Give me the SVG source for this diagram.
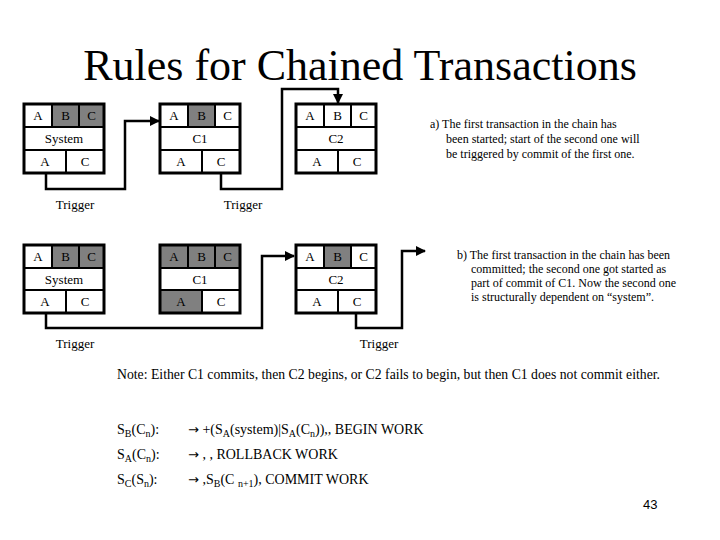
<svg xmlns="http://www.w3.org/2000/svg" width="720" height="540" viewBox="0 0 720 540">
<style>
text{font-family:"Liberation Serif","Times New Roman",serif;fill:#000}
.cell{font-size:13px;text-anchor:middle}
.g{fill:#808080}
.w{fill:#fff}
.div{stroke:#000;stroke-width:2;fill:none}
.frame{fill:none;stroke:#000;stroke-width:3}
.con{fill:none;stroke:#000;stroke-width:2.5}
.lbl{font-size:13px;text-anchor:middle}
.para{font-size:12px}
.f{font-size:14px}
.sub{font-size:10px}
.arr{font-family:"DejaVu Sans",sans-serif;font-size:13px}
</style>
<defs>
<marker id="ah" viewBox="0 0 10 10" refX="9" refY="5" markerWidth="4" markerHeight="4" orient="auto" markerUnits="strokeWidth">
<path d="M0,0 L10,5 L0,10 z" fill="#000"/>
</marker>
</defs>
<rect width="720" height="540" fill="#fff"/>
<text x="360" y="80" font-size="44" text-anchor="middle">Rules for Chained Transactions</text>

<!-- Top row nodes -->
<g id="sys-a">
<rect x="24" y="104" width="28" height="23" class="w"/>
<rect x="52" y="104" width="27" height="23" class="g"/>
<rect x="79" y="104" width="25" height="23" class="g"/>
<path class="div" d="M24,127H104M24,150H104M52,104V127M79,104V127M66,150V173"/>
<rect x="24" y="104" width="80" height="69" class="frame"/>
<text class="cell" x="38" y="120">A</text><text class="cell" x="65.5" y="120">B</text><text class="cell" x="91.5" y="120">C</text>
<text class="cell" x="64" y="143">System</text>
<text class="cell" x="45" y="166">A</text><text class="cell" x="85" y="166">C</text>
</g>
<g id="c1-a">
<rect x="160" y="104" width="28" height="23" class="w"/>
<rect x="188" y="104" width="27" height="23" class="g"/>
<rect x="215" y="104" width="25" height="23" class="w"/>
<path class="div" d="M160,127H240M160,150H240M188,104V127M215,104V127M202,150V173"/>
<rect x="160" y="104" width="80" height="69" class="frame"/>
<text class="cell" x="174" y="120">A</text><text class="cell" x="201.5" y="120">B</text><text class="cell" x="227.5" y="120">C</text>
<text class="cell" x="200" y="143">C1</text>
<text class="cell" x="181" y="166">A</text><text class="cell" x="221" y="166">C</text>
</g>
<g id="c2-a">
<rect x="296" y="104" width="80" height="69" class="w"/>
<path class="div" d="M296,127H376M296,150H376M324,104V127M351,104V127M338,150V173"/>
<rect x="296" y="104" width="80" height="69" class="frame"/>
<text class="cell" x="310" y="120">A</text><text class="cell" x="337.5" y="120">B</text><text class="cell" x="363.5" y="120">C</text>
<text class="cell" x="336" y="143">C2</text>
<text class="cell" x="317" y="166">A</text><text class="cell" x="357" y="166">C</text>
</g>

<!-- Bottom row nodes -->
<g id="sys-b">
<rect x="24" y="245" width="28" height="23" class="w"/>
<rect x="52" y="245" width="27" height="23" class="g"/>
<rect x="79" y="245" width="25" height="23" class="g"/>
<path class="div" d="M24,268H104M24,290H104M52,245V268M79,245V268M66,290V313"/>
<rect x="24" y="245" width="80" height="68" class="frame"/>
<text class="cell" x="38" y="261">A</text><text class="cell" x="65.5" y="261">B</text><text class="cell" x="91.5" y="261">C</text>
<text class="cell" x="64" y="284">System</text>
<text class="cell" x="45" y="306">A</text><text class="cell" x="85" y="306">C</text>
</g>
<g id="c1-b">
<rect x="160" y="245" width="80" height="23" class="g"/>
<rect x="160" y="290" width="42" height="23" class="g"/>
<path class="div" d="M160,268H240M160,290H240M188,245V268M215,245V268M202,290V313"/>
<rect x="160" y="245" width="80" height="68" class="frame"/>
<text class="cell" x="174" y="261">A</text><text class="cell" x="201.5" y="261">B</text><text class="cell" x="227.5" y="261">C</text>
<text class="cell" x="200" y="284">C1</text>
<text class="cell" x="181" y="306">A</text><text class="cell" x="221" y="306">C</text>
</g>
<g id="c2-b">
<rect x="324" y="245" width="27" height="23" class="g"/>
<path class="div" d="M296,268H376M296,290H376M324,245V268M351,245V268M338,290V313"/>
<rect x="296" y="245" width="80" height="68" class="frame"/>
<text class="cell" x="310" y="261">A</text><text class="cell" x="337.5" y="261">B</text><text class="cell" x="363.5" y="261">C</text>
<text class="cell" x="336" y="284">C2</text>
<text class="cell" x="317" y="306">A</text><text class="cell" x="357" y="306">C</text>
</g>

<g id="connectors">
<path class="con" d="M46,174V189H125V121H159" marker-end="url(#ah)"/>
<path class="con" d="M221,174V189H282V89H338V103" marker-end="url(#ah)"/>
<path class="con" d="M46,314V328H262V256H294" marker-end="url(#ah)"/>
<path class="con" d="M356,314V328H402V251H425" marker-end="url(#ah)"/>
</g>

<text class="lbl" x="75" y="209">Trigger</text>
<text class="lbl" x="243" y="209">Trigger</text>
<text class="lbl" x="75" y="348">Trigger</text>
<text class="lbl" x="379" y="348">Trigger</text>

<g class="para">
<text x="430" y="128">a) The first transaction in the chain has</text>
<text x="446" y="143">been started; start of the second one will</text>
<text x="446" y="158">be triggered by commit of the first one.</text>
<text x="457" y="259">b) The first transaction in the chain has been</text>
<text x="471" y="273">committed; the second one got started as</text>
<text x="471" y="287">part of commit of C1.  Now the second one</text>
<text x="471" y="301">is structurally dependent on “system”.</text>
</g>

<text x="117" y="379" font-size="15" textLength="543" lengthAdjust="spacingAndGlyphs">Note: Either C1 commits, then C2 begins, or C2 fails to begin, but then C1 does not commit either.</text>

<g class="f">
<text x="117" y="434">S<tspan class="sub" dy="3">B</tspan><tspan dy="-3">(C</tspan><tspan class="sub" dy="3">n</tspan><tspan dy="-3">):</tspan></text>
<text x="188" y="434"><tspan class="arr">→</tspan> +(S<tspan class="sub" dy="3">A</tspan><tspan dy="-3">(system)|S</tspan><tspan class="sub" dy="3">A</tspan><tspan dy="-3">(C</tspan><tspan class="sub" dy="3">n</tspan><tspan dy="-3">)),, BEGIN WORK</tspan></text>
<text x="117" y="459">S<tspan class="sub" dy="3">A</tspan><tspan dy="-3">(C</tspan><tspan class="sub" dy="3">n</tspan><tspan dy="-3">):</tspan></text>
<text x="188" y="459"><tspan class="arr">→</tspan> , , ROLLBACK WORK</text>
<text x="117" y="484">S<tspan class="sub" dy="3">C</tspan><tspan dy="-3">(S</tspan><tspan class="sub" dy="3">n</tspan><tspan dy="-3">):</tspan></text>
<text x="188" y="484"><tspan class="arr">→</tspan> ,S<tspan class="sub" dy="3">B</tspan><tspan dy="-3">(C </tspan><tspan class="sub" dy="3">n+1</tspan><tspan dy="-3">), COMMIT WORK</tspan></text>
</g>

<text x="643" y="509" font-size="13" style="font-family:'Liberation Sans',Arial,sans-serif">43</text>
</svg>
